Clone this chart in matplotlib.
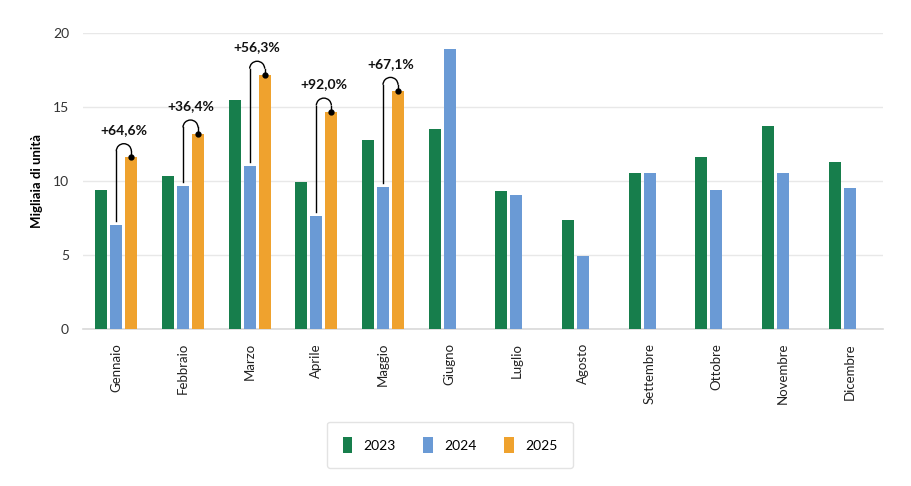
import numpy as np
import matplotlib.pyplot as plt
from matplotlib.patches import Arc

plt.rcParams['font.family'] = ['Lato', 'DejaVu Sans']

mesi = ["Gennaio", "Febbraio", "Marzo", "Aprile", "Maggio", "Giugno",
        "Luglio", "Agosto", "Settembre", "Ottobre", "Novembre", "Dicembre"]

v2023 = [9.4, 10.36, 15.47, 9.95, 12.8, 13.5, 9.32, 7.36, 10.52, 11.62, 13.74, 11.31]
v2024 = [7.0, 9.64, 11.0, 7.62, 9.57, 18.92, 9.05, 4.95, 10.52, 9.41, 10.52, 9.53]
v2025 = [11.6, 13.2, 17.17, 14.68, 16.08]

variazioni = ["+64,6%", "+36,4%", "+56,3%", "+92,0%", "+67,1%"]

col_2023 = "#177E4C"
col_2024 = "#6A9AD5"
col_2025 = "#EFA22E"

fig = plt.figure(figsize=(9.11, 4.86), dpi=100)
ax = fig.add_axes([0.0911, 0.3230, 0.8782, 0.6091])

x = np.arange(len(mesi))
step = 0.225
w = 0.18

ax.bar(x - step, v2023, width=w, color=col_2023, label="2023", zorder=3)
ax.bar(x, v2024, width=w, color=col_2024, label="2024", zorder=3)
ax.bar(np.arange(len(v2025)) + step, v2025, width=w, color=col_2025, label="2025", zorder=3)

# frecce di variazione 2024 -> 2025
for i in range(len(v2025)):
    xb = x[i]
    xo = x[i] + step
    yb = v2024[i]
    yo = v2025[i]
    yc = yo + 0.42
    ax.plot([xb, xb], [yb + 0.3, yc], color="black", lw=1.0, zorder=4)
    ax.add_patch(Arc(((xb + xo) / 2, yc), step, 1.0, theta1=0, theta2=180,
                     color="black", lw=1.0, zorder=4))
    ax.plot([xo, xo], [yc, yo], color="black", lw=1.0, zorder=4)
    ax.plot(xo, yo, "o", color="black", ms=3.5, zorder=5)
    ax.text((xb + xo) / 2, yo + 1.85, variazioni[i], ha="center", va="center",
            fontsize=10, fontweight="bold", color="#111111")

ax.set_xlim(-0.5, 11.5)
ax.set_ylim(0, 20)
ax.set_yticks([0, 5, 10, 15, 20])
ax.set_xticks(x)
ax.set_xticklabels(mesi, rotation=90, fontsize=9.5, color="#222222")
ax.tick_params(axis="y", length=0, pad=10, labelsize=10, labelcolor="#333333")
ax.tick_params(axis="x", length=0, pad=10)
ax.grid(axis="y", color="#e8e8e8", lw=1, zorder=0)
for s in ["top", "right", "left"]:
    ax.spines[s].set_visible(False)
ax.spines["bottom"].set_color("#d9d9d9")
ax.spines["bottom"].set_linewidth(1.2)

ax.set_ylabel("Migliaia di unità", fontsize=9.5, fontweight="bold", labelpad=7)

leg = fig.legend(loc="center", bbox_to_anchor=(0.494, 0.0845), ncol=3, frameon=True,
                 fontsize=10, handlelength=0.7, handleheight=1.4, columnspacing=2.0,
                 borderpad=1.1, handletextpad=0.8, fancybox=True)
leg.get_frame().set_edgecolor("#dddddd")
leg.get_frame().set_linewidth(1.0)

fig.savefig("out.png", dpi=100)
